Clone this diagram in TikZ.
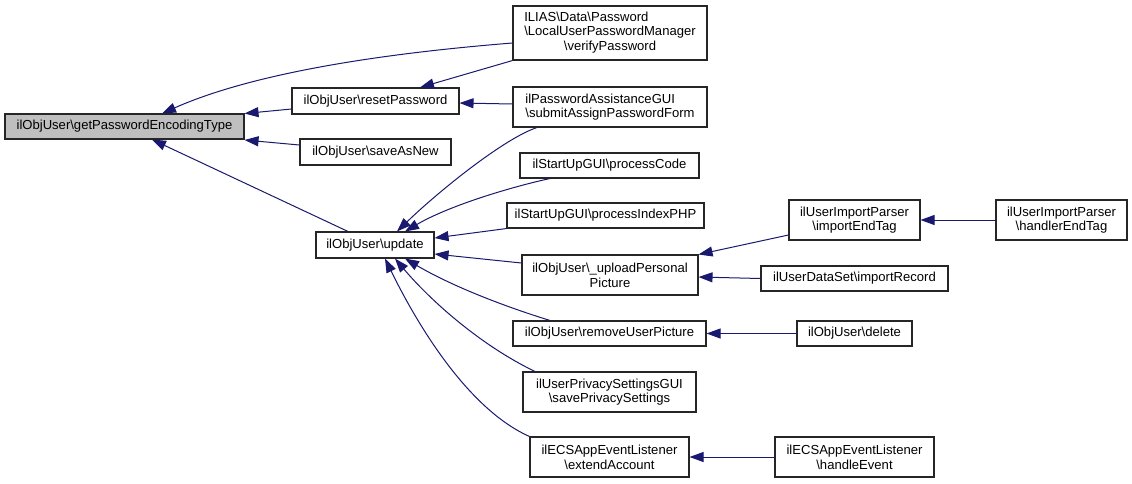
\documentclass[tikz,border=0pt]{standalone}
\usepackage{fontspec}
\setmainfont{Liberation Sans}
\usetikzlibrary{arrows.meta,calc}
\definecolor{edgeblue}{HTML}{191970}
\definecolor{nodegray}{HTML}{BFBFBF}
\newcommand{\bsl}{\textbackslash}
\begin{document}
\begin{tikzpicture}[x=0.75pt,y=-0.75pt,
  box/.style={draw=black!85, line width=0.8pt, fill=white, inner sep=0pt, align=center,
    font=\fontsize{9.8pt}{11pt}\selectfont},
  edge/.style={draw=edgeblue, line width=0.75pt, -{Triangle[length=10.5pt,width=7.5pt]}}]
\useasboundingbox (0,0) rectangle (1132,483);
\fill[white] (0,0) rectangle (1132,483);

% nodes
\node[box, fill=nodegray, minimum width=179.25pt, minimum height=18.75pt] (gpet) at (124.5,126.5) {ilObjUser\bsl getPasswordEncodingType};
\node[box, minimum width=125.25pt, minimum height=19.5pt] (reset) at (375.5,101) {ilObjUser\bsl resetPassword};
\node[box, minimum width=113.25pt, minimum height=19.5pt] (saveAsNew) at (375.5,152) {ilObjUser\bsl saveAsNew};
\node[box, minimum width=88.5pt, minimum height=19.5pt] (update) at (375,245) {ilObjUser\bsl update};
\node[box, minimum width=145.5pt, minimum height=40.5pt] (verify) at (610,33) {\begin{tabular}{@{}l@{}}ILIAS\bsl Data\bsl Password\\\bsl LocalUserPasswordManager\\\multicolumn{1}{@{}c@{}}{\bsl verifyPassword}\end{tabular}};
\node[box, align=left, minimum width=145.5pt, minimum height=30pt] (submit) at (610,107) {ilPasswordAssistanceGUI\\\bsl submitAssignPasswordForm};
\node[box, minimum width=134.25pt, minimum height=18.75pt] (processCode) at (609.5,165.5) {ilStartUpGUI\bsl processCode};
\node[box, minimum width=147.75pt, minimum height=18.75pt] (processIndexPHP) at (605.5,215.5) {ilStartUpGUI\bsl processIndexPHP};
\node[box, minimum width=132pt, minimum height=30pt] (upload) at (610,275) {ilObjUser\bsl \_uploadPersonal\\Picture};
\node[box, minimum width=144.75pt, minimum height=18.75pt] (remove) at (609.5,333.5) {ilObjUser\bsl removeUserPicture};
\node[box, minimum width=129.75pt, minimum height=30pt] (privacy) at (609.5,392) {ilUserPrivacySettingsGUI\\\bsl savePrivacySettings};
\node[box, minimum width=119.25pt, minimum height=30pt] (extend) at (609.5,457) {ilECSAppEventListener\\\bsl extendAccount};
\node[box, minimum width=98.25pt, minimum height=30pt] (importEndTag) at (854.5,220) {ilUserImportParser\\\bsl importEndTag};
\node[box, minimum width=98.25pt, minimum height=30pt] (handlerEndTag) at (1061.5,220) {ilUserImportParser\\\bsl handlerEndTag};
\node[box, minimum width=140.25pt, minimum height=18.75pt] (importRecord) at (854.5,278.5) {ilUserDataSet\bsl importRecord};
\node[box, minimum width=86.25pt, minimum height=18.75pt] (delete) at (854.5,333.5) {ilObjUser\bsl delete};
\node[box, minimum width=119.25pt, minimum height=30pt] (handleEvent) at (854.5,457) {ilECSAppEventListener\\\bsl handleEvent};

% edges
\draw[edge] ($(verify.west)+(0,10)$) .. controls (400,52) and (260,70) .. ($(gpet.north)+(37.5,0)$);
\draw[edge] (verify.south west) -- ($(reset.north)+(44.5,0)$);
\draw[edge] ($(submit.west)+(0,-3)$) -- ($(reset.east)+(0,2)$);
\draw[edge] ($(reset.west)+(0,8)$) -- ($(gpet.east)+(0,-13)$);
\draw[edge] ($(saveAsNew.west)+(0,-7)$) -- ($(gpet.east)+(0,13.5)$);
\draw[edge] ($(update.north)+(-27,0)$) -- ($(gpet.south)+(27.5,0)$);
\draw[edge] ($(submit.south)+(-73,0)$) .. controls (505,138) and (440,190) .. ($(update.north)+(22,0)$);
\draw[edge] ($(processCode.south)+(-59.5,0)$) .. controls (515,186) and (450,205) .. ($(update.north)+(30,0)$);
\draw[edge] (processIndexPHP.south west) -- ($(update.east)+(0,-7)$);
\draw[edge] ($(upload.west)+(0,-12)$) -- ($(update.east)+(0,9)$);
\draw[edge] ($(remove.north)+(-59.5,0)$) .. controls (500,305) and (450,285) .. ($(update.south)+(30,0)$);
\draw[edge] ($(privacy.north)+(-74.5,0)$) .. controls (480,345) and (430,300) .. ($(update.south)+(20,0)$);
\draw[edge] (extend.north west) .. controls (470,410) and (420,330) .. ($(update.south)+(10,0)$);
\draw[edge] ($(importEndTag.west)+(0,15)$) -- (upload.north east);
\draw[edge] (importRecord.west) -- ($(upload.east)+(0,2)$);
\draw[edge] (delete.west) -- (remove.east);
\draw[edge] (handlerEndTag.west) -- (importEndTag.east);
\draw[edge] (handleEvent.west) -- (extend.east);
\end{tikzpicture}
\end{document}
